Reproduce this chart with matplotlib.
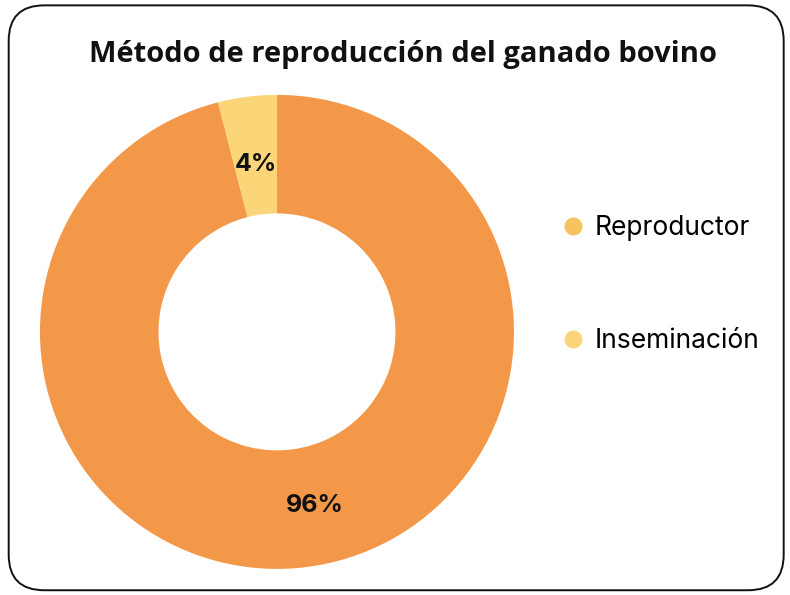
import numpy as np
import matplotlib.pyplot as plt
from matplotlib.patches import FancyBboxPatch
from matplotlib.lines import Line2D

labels = ["Reproductor", "Inseminación"]
valores = [96, 4]
colores = ["#F39849", "#FBD679"]
colores_leyenda = ["#F6C35E", "#FBD679"]

fig = plt.figure(figsize=(7.9, 5.95), dpi=100)

# marco redondeado
marco = FancyBboxPatch((0.011, 0.008), 0.981, 0.983,
                       boxstyle="round,pad=0,rounding_size=0.045",
                       transform=fig.transFigure, fill=False,
                       edgecolor="#111111", linewidth=1.4,
                       mutation_aspect=790 / 595)
fig.patches.append(marco)

ax = fig.add_axes([0.0506, 0.0437, 0.6, 0.797])
wedges, textos, autotextos = ax.pie(
    valores, colors=colores, startangle=90, counterclock=False,
    radius=1, wedgeprops=dict(width=0.5, edgecolor="none"),
    autopct=lambda p: f"{p:.0f}%", pctdistance=0.71,
    textprops=dict(fontfamily="Inter", fontweight="bold", fontsize=18, color="#111111"),
)
# la etiqueta grande va un poco desplazada hacia la derecha
ang = np.deg2rad((wedges[0].theta1 + wedges[0].theta2) / 2 + 5)
autotextos[0].set_position((0.75 * np.cos(ang), 0.75 * np.sin(ang)))

ax.set_xlim(-1, 1)
ax.set_ylim(-1, 1)
ax.set_aspect("equal")

fig.text(0.51, 0.908, "Método de reproducción del ganado bovino",
         ha="center", va="center", fontfamily="Open Sans",
         fontweight="bold", fontsize=21, color="#111111")

handles = [Line2D([], [], marker="o", linestyle="none", markersize=13,
                  markerfacecolor=c, markeredgecolor="none") for c in colores_leyenda]
fig.legend(handles, labels, loc="center left", bbox_to_anchor=(0.678, 0.522),
           frameon=False, prop=dict(family="Inter", size=19),
           labelspacing=3.3, handletextpad=0.35, handlelength=1.0)

fig.savefig("out.png", dpi=100)
